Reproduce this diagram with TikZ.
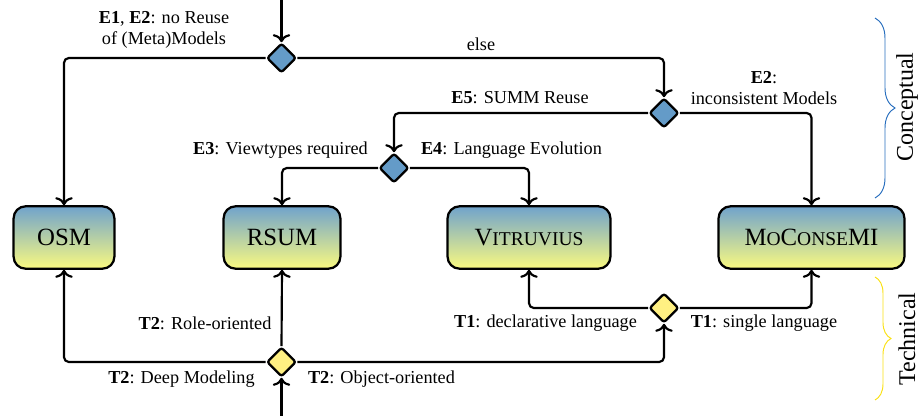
\documentclass[tikz,border=0pt]{standalone}
\usepackage{fontspec}
\setmainfont{Liberation Serif}
\usetikzlibrary{shapes.geometric,arrows.meta,decorations.pathreplacing}

\definecolor{diablue}{RGB}{100,155,200}
\definecolor{diayel}{RGB}{255,240,130}
\definecolor{boxtop}{RGB}{112,163,204}
\definecolor{boxbot}{RGB}{250,250,128}
\definecolor{braceblue}{RGB}{40,110,190}
\definecolor{braceyel}{RGB}{250,225,20}

% small capitals built from scaled-down capitals
\newcommand\mysc[1]{{\fontsize{12.2}{14}\selectfont #1}}

\begin{document}
\begin{tikzpicture}[x=0.625pt,y=-0.625pt,
  approach/.style={draw=black,line width=1.4pt,rounded corners=7.5pt,
    top color=boxtop,bottom color=boxbot,minimum height=39pt,inner sep=0pt,
    font=\fontsize{15.5}{18}\selectfont},
  choice/.style={diamond,draw=black,line width=1.4pt,rounded corners=1.5pt,
    inner sep=0pt,minimum width=18.4pt,minimum height=18.4pt},
  conc/.style={choice,fill=diablue},
  tech/.style={choice,fill=diayel},
  flow/.style={line width=1.35pt,rounded corners=3pt,
    -{Computer Modern Rightarrow[length=5pt,width=11pt]}},
  lbl/.style={inner sep=0pt,font=\fontsize{11.4}{12.8}\selectfont,align=center},
  side/.style={inner sep=0pt,font=\fontsize{15}{18}\selectfont,rotate=90},
  bracket/.style={line width=0.6pt,decorate},
]
\useasboundingbox (0,0) rectangle (918,416);

% approaches
\node[approach,minimum width=63pt] (osm) at (64,237.5) {OSM};
\node[approach,minimum width=73pt] (rsum) at (282,237.5) {RSUM};
\node[approach,minimum width=101.8pt] (vit) at (529,237.5) {V\mysc{ITRUVIUS}};
\node[approach,minimum width=116.2pt] (moc) at (811.5,237.5) {M\mysc{O}C\mysc{ONSE}MI};

% decisions
\node[conc] (d1) at (281.5,58) {};
\node[conc] (d2) at (664,113) {};
\node[conc] (d3) at (394,168) {};
\node[tech] (d4) at (281.5,362) {};
\node[tech] (d5) at (664,308) {};

\coordinate (in1) at (281.5,0);
\coordinate (in2) at (281.5,416);

% conceptual flow
\draw[flow] (in1) -- (d1.north);
\draw[flow] (d1.west) -| (osm.north);
\draw[flow] (d1.east) -| (d2.north);
\draw[flow] (d2.east) -| (moc.north);
\draw[flow] (d2.west) -| (d3.north);
\draw[flow] (d3.west) -| (rsum.north);
\draw[flow] (d3.east) -| (vit.north);

% technical flow
\draw[flow] (in2) -- (d4.south);
\draw[flow] (d4.north) -- (rsum.south);
\draw[flow] (d4.west) -| (osm.south);
\draw[flow] (d4.east) -| (d5.south);
\draw[flow] (d5.west) -| (vit.south);
\draw[flow] (d5.east) -| (moc.south);

% conditions
\node[lbl] (c1) at (164,30) {\textbf{E1}, \textbf{E2}: no Reuse\\of (Meta)Models};
\node[lbl] (c2) at (481,44) {else};
\node[lbl] (c3) at (764,88) {\textbf{E2}:\\inconsistent Models};
\node[lbl] (c4) at (520,98) {\textbf{E5}: SUMM Reuse};
\node[lbl] (c5) at (280.5,150) {\textbf{E3}: Viewtypes required};
\node[lbl] (c6) at (511.5,150) {\textbf{E4}: Language Evolution};
\node[lbl] (c7) at (205,323) {\textbf{T2}: Role-oriented};
\node[lbl] (c8) at (181.5,379) {\textbf{T2}: Deep Modeling};
\node[lbl] (c9) at (381.5,379) {\textbf{T2}: Object-oriented};
\node[lbl] (c10) at (545.5,323) {\textbf{T1}: declarative language};
\node[lbl] (c11) at (764,323) {\textbf{T1}: single language};

% groupings
\draw[bracket,braceblue,decoration={brace,amplitude=12.5pt}] (875,18) -- (875,198);
\draw[bracket,braceyel,decoration={brace,amplitude=10pt}] (875,277) -- (875,400);
\node[side] (g1) at (907,107) {Conceptual};
\node[side] (g2) at (907,339) {Technical};
\end{tikzpicture}
\end{document}
